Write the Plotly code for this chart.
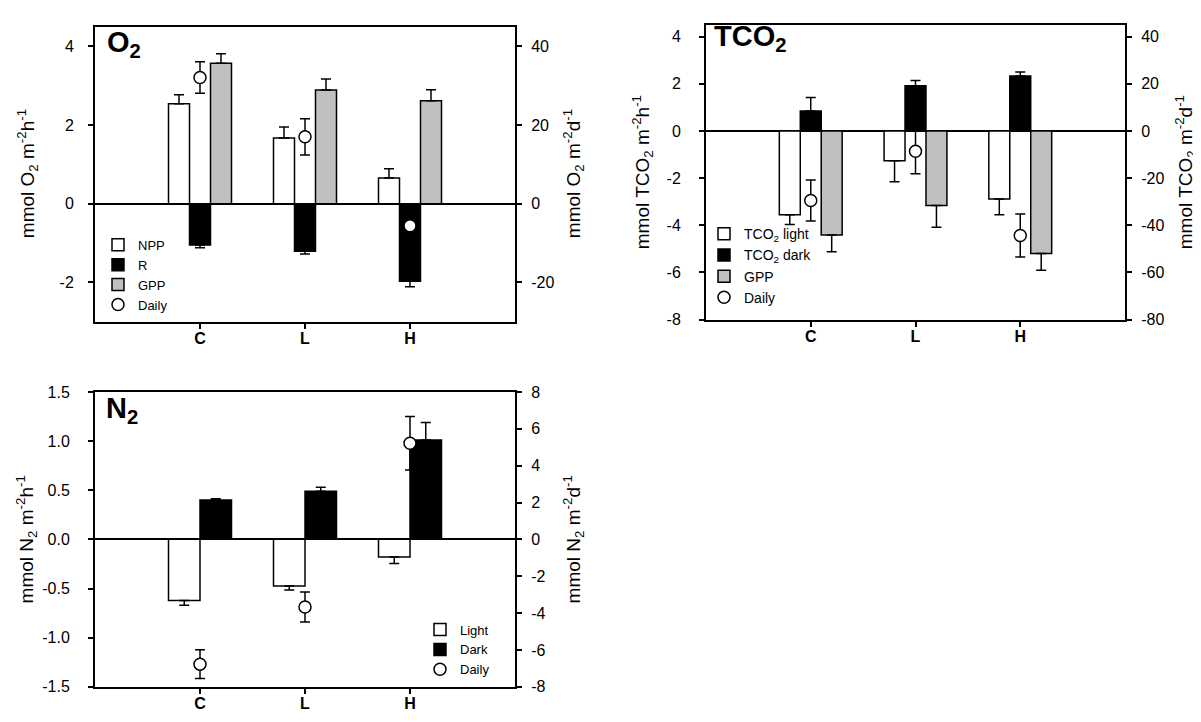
import plotly.graph_objects as go

# ---------------- data ----------------
categories = ["C", "L", "H"]
cat_ticktext = ["<b>C</b>", "<b>L</b>", "<b>H</b>"]

# O2 panel (hourly, left axis) ; daily on right axis
o2_npp = [2.54, 1.67, 0.65]
o2_npp_err = [0.23, 0.28, 0.24]
o2_r = [-1.05, -1.21, -1.97]
o2_r_err = [0.07, 0.07, 0.14]
o2_gpp = [3.57, 2.89, 2.62]
o2_gpp_err = [0.24, 0.28, 0.28]
o2_daily = [32.1, 17.0, -5.6]
o2_daily_err = [4.0, 4.6, 1.0]

# TCO2 panel
tco2_light = [-3.55, -1.26, -2.88]
tco2_light_err = [0.42, 0.89, 0.67]
tco2_dark = [0.85, 1.92, 2.33]
tco2_dark_err = [0.57, 0.22, 0.17]
tco2_gpp = [-4.41, -3.16, -5.19]
tco2_gpp_err = [0.71, 0.92, 0.71]
tco2_daily = [-29.5, -8.6, -44.3]
tco2_daily_err = [8.7, 9.5, 9.1]

# N2 panel
n2_light = [-0.623, -0.474, -0.179]
n2_light_err = [0.046, 0.040, 0.066]
n2_dark = [0.40, 0.49, 1.01]
n2_dark_err = [0.014, 0.040, 0.18]
n2_daily = [-6.77, -3.67, 5.22]
n2_daily_err = [0.78, 0.81, 1.45]

# tick labels
o2_left_ticks = [-2, 0, 2, 4]
o2_left_text = ["-2", "0", "2", "4"]
o2_right_ticks = [-20, 0, 20, 40]
o2_right_text = ["-20", "0", "20", "40"]
tco2_left_ticks = [-8, -6, -4, -2, 0, 2, 4]
tco2_left_text = ["-8", "-6", "-4", "-2", "0", "2", "4"]
tco2_right_ticks = [-80, -60, -40, -20, 0, 20, 40]
tco2_right_text = ["-80", "-60", "-40", "-20", "0", "20", "40"]
n2_left_ticks = [-1.5, -1.0, -0.5, 0.0, 0.5, 1.0, 1.5]
n2_left_text = ["-1.5", "-1.0", "-0.5", "0.0", "0.5", "1.0", "1.5"]
n2_right_ticks = [-8, -6, -4, -2, 0, 2, 4, 6, 8]
n2_right_text = ["-8", "-6", "-4", "-2", "0", "2", "4", "6", "8"]

# ---------------- style ----------------
FONT = "Liberation Sans, Arial, sans-serif"
W, H = 1201, 722
xs = list(range(len(categories)))


def px_x(p):
    return p / W


def px_y(p):
    return 1 - p / H


def bar(vals, errs, name, fill, offset, width, xa, ya, legend, showlegend=True):
    up = [e if v >= 0 else 0 for v, e in zip(vals, errs)]
    dn = [e if v < 0 else 0 for v, e in zip(vals, errs)]
    return go.Bar(
        x=xs, y=vals, name=name, offset=offset, width=width,
        marker=dict(color=fill, line=dict(color="black", width=1.5)),
        error_y=dict(type="data", symmetric=False, array=up, arrayminus=dn,
                     color="black", thickness=1.5, width=5),
        xaxis=xa, yaxis=ya, legend=legend, showlegend=showlegend,
    )


def daily(vals, errs, xa, ya, legend):
    return go.Scatter(
        x=xs, y=vals, name="Daily", mode="markers",
        marker=dict(symbol="circle", size=12, color="white",
                    line=dict(color="black", width=1.5)),
        error_y=dict(type="data", array=errs, color="black", thickness=1.5, width=5),
        xaxis=xa, yaxis=ya, legend=legend,
    )


fig = go.Figure()

# O2
fig.add_trace(bar(o2_npp, o2_npp_err, "NPP", "white", -0.3, 0.2, "x", "y", "legend"))
fig.add_trace(bar(o2_r, o2_r_err, "R", "black", -0.1, 0.2, "x", "y", "legend"))
fig.add_trace(bar(o2_gpp, o2_gpp_err, "GPP", "#c0c0c0", 0.1, 0.2, "x", "y", "legend"))
fig.add_trace(daily(o2_daily, o2_daily_err, "x", "y2", "legend"))

# TCO2
fig.add_trace(bar(tco2_light, tco2_light_err, "TCO<sub>2</sub> light", "white", -0.3, 0.2, "x2", "y3", "legend2"))
fig.add_trace(bar(tco2_dark, tco2_dark_err, "TCO<sub>2</sub> dark", "black", -0.1, 0.2, "x2", "y3", "legend2"))
fig.add_trace(bar(tco2_gpp, tco2_gpp_err, "GPP", "#c0c0c0", 0.1, 0.2, "x2", "y3", "legend2"))
fig.add_trace(daily(tco2_daily, tco2_daily_err, "x2", "y4", "legend2"))

# N2
fig.add_trace(bar(n2_light, n2_light_err, "Light", "white", -0.3, 0.3, "x3", "y5", "legend3"))
fig.add_trace(bar(n2_dark, n2_dark_err, "Dark", "black", 0.0, 0.3, "x3", "y5", "legend3"))
fig.add_trace(daily(n2_daily, n2_daily_err, "x3", "y6", "legend3"))

# ---------------- axes ----------------
tickfont = dict(family=FONT, size=16, color="black")


def xaxis(domain, anchor):
    return dict(domain=domain, anchor=anchor, range=[-1, 3], tickmode="array",
                tickvals=xs, ticktext=cat_ticktext, ticks="outside", ticklen=5,
                tickwidth=1.5, tickcolor="black", showline=True, linecolor="black",
                linewidth=2, mirror=True, showgrid=False, zeroline=False,
                tickfont=dict(family=FONT, size=16, color="black"),
                ticklabelstandoff=-4, fixedrange=True)


def yleft(domain, anchor, rng, tv, tt, standoff):
    return dict(domain=domain, anchor=anchor, range=rng, tickmode="array",
                tickvals=tv, ticktext=tt, ticks="outside", ticklen=5, tickwidth=1.5,
                tickcolor="black", showline=True, linecolor="black", linewidth=2,
                mirror=True, showgrid=False, zeroline=True, zerolinecolor="black",
                zerolinewidth=1.5, tickfont=tickfont, ticklabelstandoff=standoff)


def yright(overlay, anchor, rng, tv, tt):
    return dict(overlaying=overlay, anchor=anchor, side="right", range=rng,
                tickmode="array", tickvals=tv, ticktext=tt, ticks="outside",
                ticklen=5, tickwidth=1.5, tickcolor="black", showline=True,
                linecolor="black", linewidth=2, showgrid=False, zeroline=False,
                tickfont=tickfont, ticklabelstandoff=6)


dx_left = [px_x(87), px_x(507)]
dx_right = [px_x(698), px_x(1117)]
dy_top1 = [px_y(313), px_y(11)]
dy_top2 = [px_y(311), px_y(9)]
dy_bot = [px_y(687), px_y(385)]

fig.update_layout(
    xaxis=xaxis(dx_left, "y"),
    yaxis=yleft(dy_top1, "x", [-3, 4.5], o2_left_ticks, o2_left_text, 11),
    yaxis2=yright("y", "x", [-30, 45], o2_right_ticks, o2_right_text),
    xaxis2=xaxis(dx_right, "y3"),
    yaxis3=yleft(dy_top2, "x2", [-8, 4.5], tco2_left_ticks, tco2_left_text, 15),
    yaxis4=yright("y3", "x2", [-80, 45], tco2_right_ticks, tco2_right_text),
    xaxis3=xaxis(dx_left, "y5"),
    yaxis5=yleft(dy_bot, "x3", [-1.5, 1.5], n2_left_ticks, n2_left_text, 15),
    yaxis6=yright("y5", "x3", [-8, 8], n2_right_ticks, n2_right_text),
)

# ---------------- legends ----------------
leg_common = dict(xanchor="left", yanchor="top", bgcolor="rgba(0,0,0,0)",
                  borderwidth=0, itemwidth=30, tracegroupgap=0,
                  itemclick=False, itemdoubleclick=False)
fig.update_layout(
    legend=dict(x=px_x(90), y=px_y(219), font=dict(family=FONT, size=13, color="black"), **leg_common),
    legend2=dict(x=px_x(696), y=px_y(207), font=dict(family=FONT, size=14, color="black"), **leg_common),
    legend3=dict(x=px_x(412), y=px_y(613), font=dict(family=FONT, size=13, color="black"), **leg_common),
)

# ---------------- annotations (panel titles and axis titles) ----------------
ann = []
for txt, x, y in [("<b>O<sub>2</sub></b>", 97, 29),
                  ("<b>TCO<sub>2</sub></b>", 704, 23),
                  ("<b>N<sub>2</sub></b>", 96, 404)]:
    ann.append(dict(text=txt, x=px_x(x), y=px_y(y), xref="paper", yref="paper",
                    xanchor="left", yanchor="middle", showarrow=False,
                    font=dict(family=FONT, size=29, color="black")))

for txt, x, y in [("mmol O<sub>2</sub> m<sup>-2</sup>h<sup>-1</sup>", 19, 162),
                  ("mmol O<sub>2</sub> m<sup>-2</sup>d<sup>-1</sup>", 565, 162),
                  ("mmol TCO<sub>2</sub> m<sup>-2</sup>h<sup>-1</sup>", 634, 160),
                  ("mmol TCO<sub>2</sub> m<sup>-2</sup>d<sup>-1</sup>", 1177, 160),
                  ("mmol N<sub>2</sub> m<sup>-2</sup>h<sup>-1</sup>", 18, 536),
                  ("mmol N<sub>2</sub> m<sup>-2</sup>d<sup>-1</sup>", 565, 536)]:
    ann.append(dict(text=txt, x=px_x(x), y=px_y(y), xref="paper", yref="paper",
                    xanchor="center", yanchor="middle", showarrow=False, textangle=-90,
                    font=dict(family=FONT, size=19, color="black")))

fig.update_layout(
    annotations=ann,
    width=W, height=H,
    margin=dict(l=0, r=0, t=0, b=0),
    paper_bgcolor="white", plot_bgcolor="white",
    barmode="overlay",
    font=dict(family=FONT, color="black"),
)

fig.write_html("out.html", config={"displayModeBar": False})
